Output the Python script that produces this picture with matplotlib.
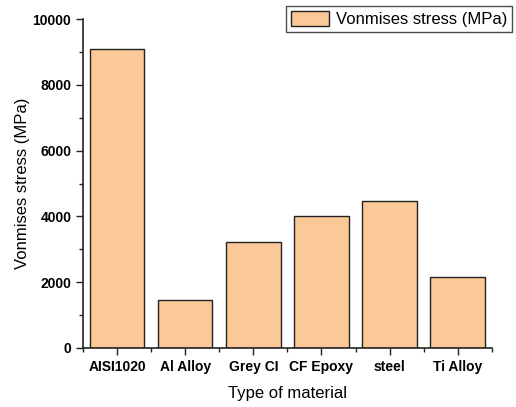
import matplotlib.pyplot as plt
from matplotlib.ticker import MultipleLocator, FixedLocator
import numpy as np

plt.rcParams['font.family'] = ['Liberation Sans', 'DejaVu Sans']

materials = ['AISI1020', 'Al Alloy', 'Grey CI', 'CF Epoxy', 'steel', 'Ti Alloy']
stress = [9100, 1450, 3220, 4000, 4460, 2150]

fig = plt.figure(figsize=(5.16, 4.07), dpi=100)
ax = fig.add_axes([0.161, 0.145, 0.792, 0.808])

x = np.arange(len(materials))
ax.bar(x, stress, width=0.8, color='#fbc898', edgecolor='#222222', linewidth=1.0,
       label='Vonmises stress (MPa)')

ax.set_xlim(-0.5, len(materials) - 0.5)
ax.set_ylim(0, 10000)
ax.set_xticks(x)
ax.set_xticklabels(materials, fontweight='bold', fontsize=10)
ax.xaxis.set_minor_locator(FixedLocator(np.arange(-0.5, len(materials), 1.0)))
ax.yaxis.set_major_locator(MultipleLocator(2000))
ax.yaxis.set_minor_locator(MultipleLocator(1000))
for lab in ax.get_yticklabels():
    lab.set_fontweight('bold')
    lab.set_fontsize(10)

ax.tick_params(which='major', direction='out', length=5, width=1, color='#222222')
ax.tick_params(which='minor', direction='out', length=3, width=1, color='#222222')

for side in ['top', 'right']:
    ax.spines[side].set_visible(False)
for side in ['left', 'bottom']:
    ax.spines[side].set_linewidth(1.2)
    ax.spines[side].set_color('#222222')

ax.set_xlabel('Type of material', fontsize=12, labelpad=9)
ax.set_ylabel('Vonmises stress (MPa)', fontsize=12, labelpad=2)

leg = ax.legend(loc='upper right', bbox_to_anchor=(512 / 516, 1 - 6 / 407),
                bbox_transform=fig.transFigure, fontsize=12, frameon=True,
                fancybox=False, borderpad=0.3, handlelength=2.3, handleheight=1.0,
                handletextpad=0.4, borderaxespad=0)
leg.get_frame().set_edgecolor('#222222')
leg.get_frame().set_linewidth(1.0)

fig.savefig('out.png', dpi=100)
